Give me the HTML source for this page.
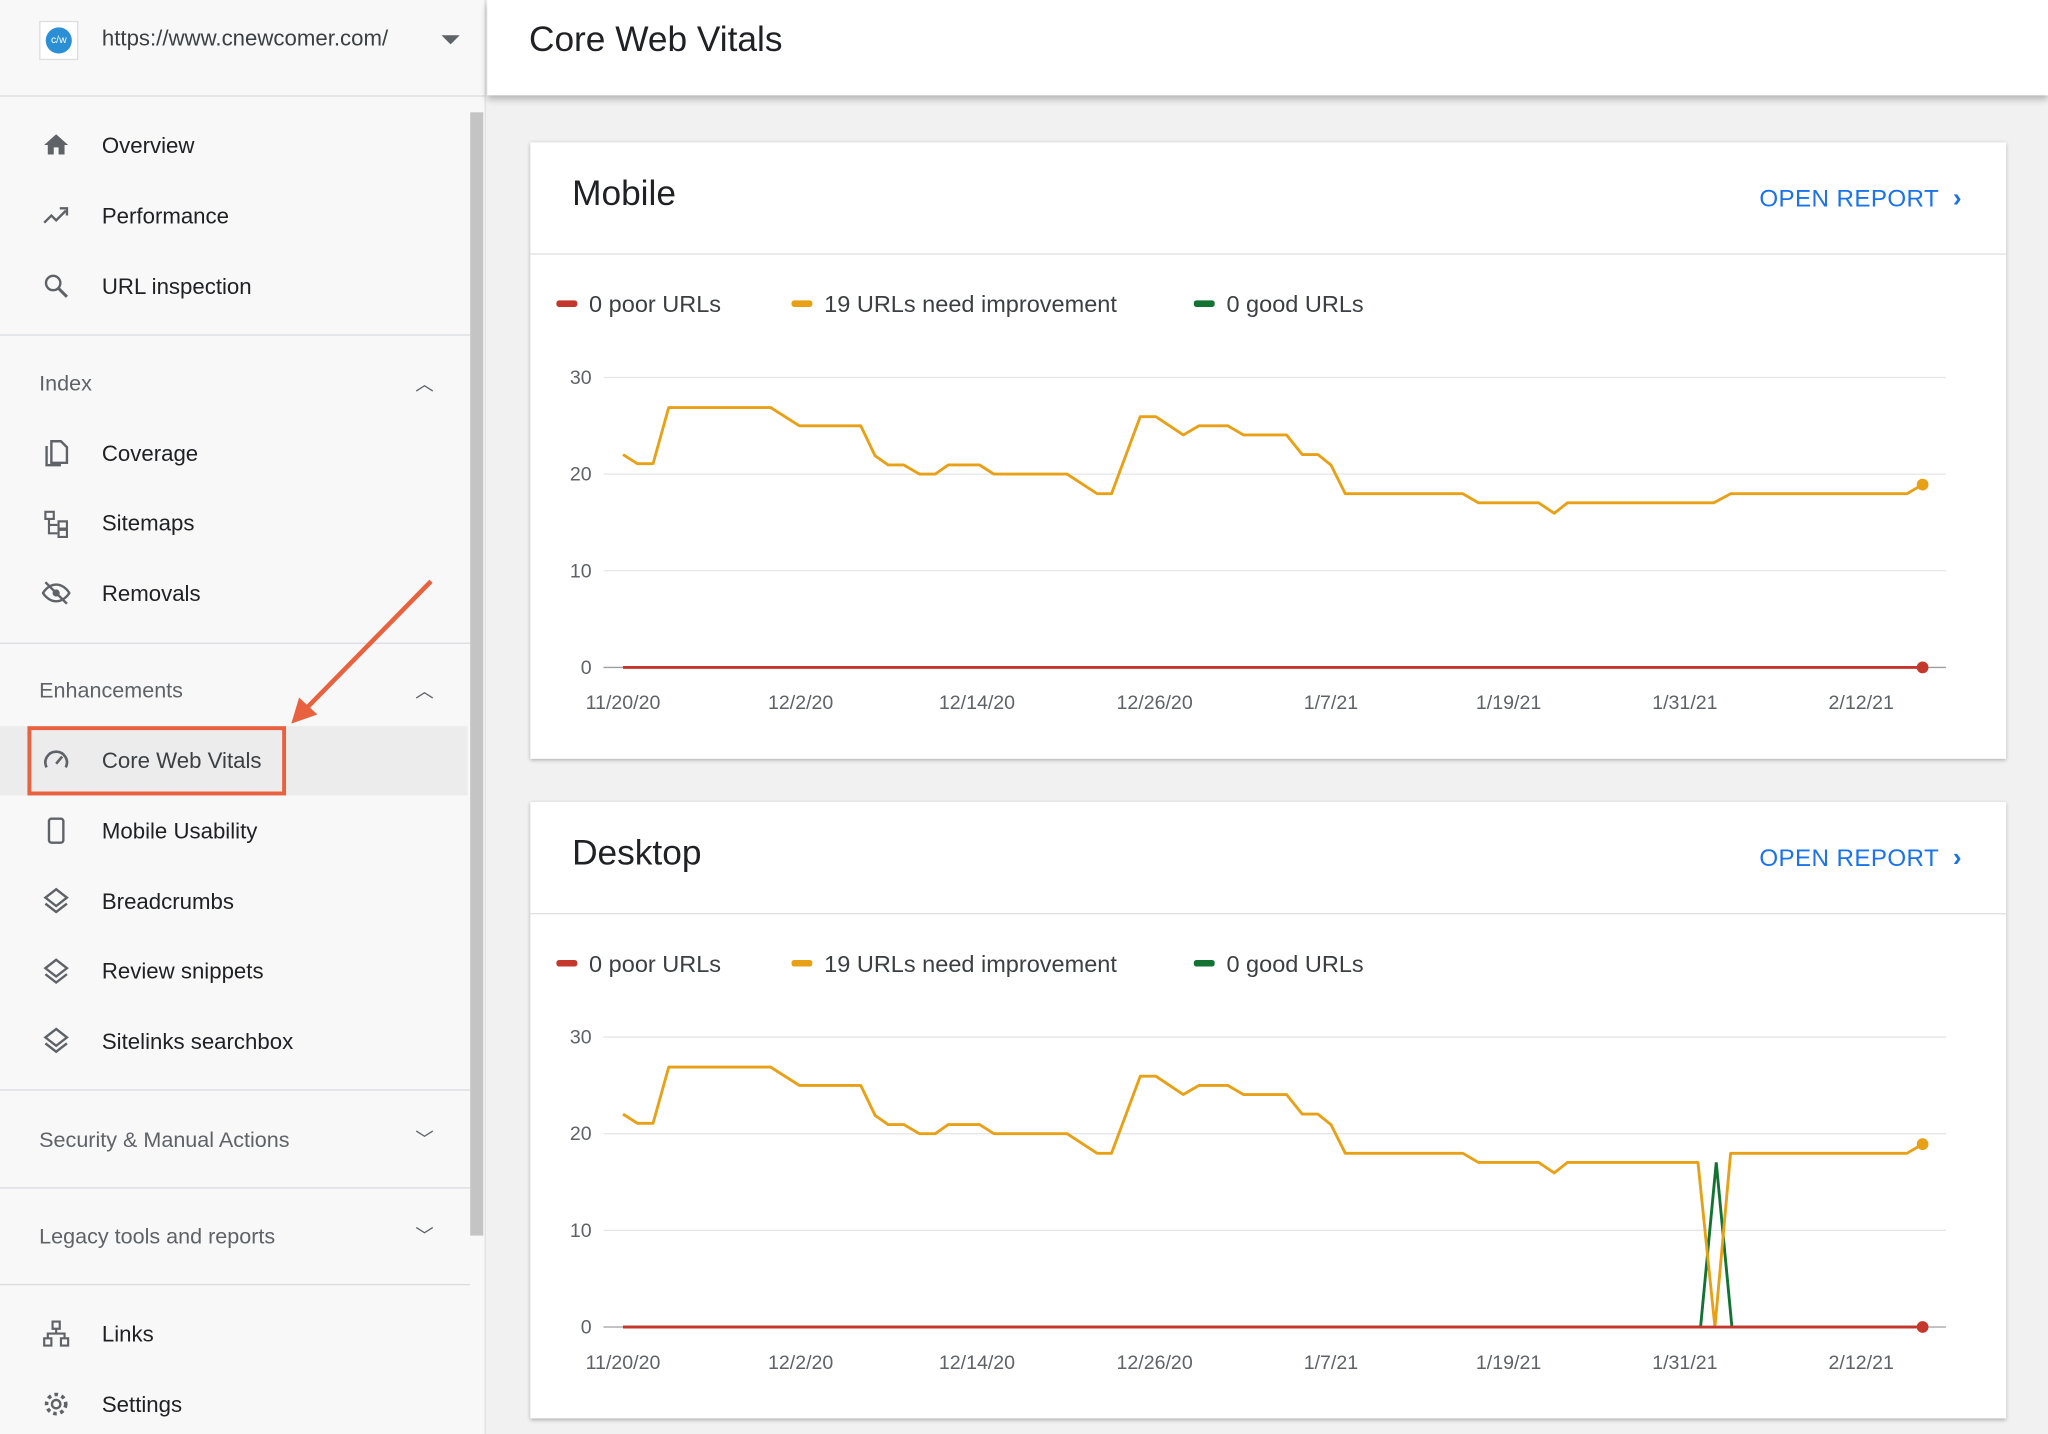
<!DOCTYPE html>
<html><head><meta charset="utf-8"><style>
*{margin:0;padding:0;box-sizing:border-box}
html,body{width:2048px;height:1434px;overflow:hidden;background:#f1f1f1;font-family:"Liberation Sans",Arial,sans-serif}
#w{position:absolute;left:0;top:0;width:1568px;height:1098px;transform:scale(1.306122);transform-origin:0 0;background:#f1f1f1}
#side{position:absolute;left:0;top:0;width:372px;height:1098px;background:#f8f8f8;border-right:1px solid #e0e0e0}
.it{position:absolute;left:78px;font-size:17px;color:#202124}
.ic{position:absolute;left:32px;width:22px;height:22px}
.sec{position:absolute;left:30px;font-size:16.5px;color:#5f6368}
.chev{position:absolute;left:318px;font-size:14px;color:#5f6368}
.hr{position:absolute;left:0;width:360px;height:1px;background:#dadce0}
#top{position:absolute;left:373px;top:0;width:1195px;height:73px;background:#fff;box-shadow:0 3px 5px rgba(0,0,0,.25)}
.card{position:absolute;left:406px;width:1130px;height:472px;background:#fff;box-shadow:0 1px 3px rgba(0,0,0,.3)}
.ct{position:absolute;left:32px;top:24px;font-size:27px;color:#202124}
.or{position:absolute;left:941px;top:32px;font-size:18.5px;color:#1a73e8;letter-spacing:.3px}
.sep{position:absolute;left:0;top:85px;width:1130px;height:1px;background:#e0e0e0}
.lg{position:absolute;top:114px;font-size:18px;color:#3c4043}
.lg i{display:inline-block;width:16px;height:5px;border-radius:2px;margin-right:9px;vertical-align:middle;position:relative;top:-2px}
</style></head><body><div id="w">
<div id="side">
 <div style="position:absolute;left:30px;top:16px;width:30px;height:30px;border:1px solid #ddd;background:#fff"><div style="margin:4px;width:20px;height:20px;border-radius:50%;background:#2b8fd6;color:#fff;font-size:8px;text-align:center;line-height:20px">c/w</div></div>
 <div class="it" style="top:20px;font-size:17px;color:#3c4043">https://www.cnewcomer.com/</div>
 <div style="position:absolute;left:338px;top:27px;border-left:7px solid transparent;border-right:7px solid transparent;border-top:7px solid #5f6368"></div>
 <div class="hr" style="top:73px;width:372px"></div>
 <div style="position:absolute;left:360px;top:86px;width:10px;height:860px;background:#c4c4c4"></div>
 <svg class="ic" style="top:100px" viewBox="0 0 24 24"><path d="M10 20v-6h4v6h5v-8h3L12 3 2 12h3v8z" fill="#5f6368"/></svg>
 <div class="it" style="top:102px">Overview</div>
 <svg class="ic" style="top:154px" viewBox="0 0 24 24"><path d="M2 18l6-6 4 4 8-8M15 6h6v6" stroke="#5f6368" stroke-width="2" fill="none"/></svg>
 <div class="it" style="top:156px">Performance</div>
 <svg class="ic" style="top:208px" viewBox="0 0 24 24"><circle cx="9.5" cy="9.5" r="6" stroke="#5f6368" stroke-width="2" fill="none"/><path d="M14 14l7 7" stroke="#5f6368" stroke-width="2.5"/></svg>
 <div class="it" style="top:210px">URL inspection</div>
 <div class="hr" style="top:256px"></div>
 <div class="sec" style="top:285px">Index</div><div class="chev" style="top:284px">︿</div>
 <svg class="ic" style="top:336px" viewBox="0 0 24 24"><path d="M8 2h8l5 5v13H8z M4 6v16h12" stroke="#5f6368" stroke-width="2" fill="none"/></svg>
 <div class="it" style="top:338px">Coverage</div>
 <svg class="ic" style="top:390px" viewBox="0 0 24 24"><path d="M3 2h7v6H3zM6 8v12h7M6 13h7M14 10h7v6h-7zM14 17h7v6h-7z" stroke="#5f6368" stroke-width="1.8" fill="none"/></svg>
 <div class="it" style="top:391px">Sitemaps</div>
 <svg class="ic" style="top:443px" viewBox="0 0 24 24"><path d="M1 12s4-7 11-7 11 7 11 7-4 7-11 7S1 12 1 12z" stroke="#5f6368" stroke-width="2" fill="none"/><circle cx="12" cy="12" r="3" fill="#5f6368"/><path d="M3 3l18 18" stroke="#5f6368" stroke-width="2"/></svg>
 <div class="it" style="top:445px">Removals</div>
 <div class="hr" style="top:492px"></div>
 <div class="sec" style="top:520px">Enhancements</div><div class="chev" style="top:519px">︿</div>
 <div style="position:absolute;left:0;top:556px;width:358px;height:53px;background:#ececec"></div>
 <div style="position:absolute;left:21px;top:556px;width:198px;height:53px;border:3px solid #e8623f"></div>
 <svg class="ic" style="top:571px" viewBox="0 0 24 24"><path d="M4 18a9 9 0 1 1 16 0" stroke="#5f6368" stroke-width="2.2" fill="none"/><path d="M12 15l5-6" stroke="#5f6368" stroke-width="2.2"/></svg>
 <div class="it" style="top:573px;color:#3c4043">Core Web Vitals</div>
 <svg style="position:absolute;left:215px;top:440px;width:120px;height:120px" viewBox="0 0 120 120"><path d="M115 5L14 108" stroke="#e8623f" stroke-width="3.5"/><path d="M8 114l6-20 14 13z" fill="#e8623f"/></svg>
 <svg class="ic" style="top:625px" viewBox="0 0 24 24"><rect x="6" y="2" width="12" height="20" rx="2" stroke="#5f6368" stroke-width="2" fill="none"/></svg>
 <div class="it" style="top:627px">Mobile Usability</div>
 <svg class="ic" style="top:679px" viewBox="0 0 24 24"><path d="M12 2l9 7-9 7-9-7zM3 14l9 7 9-7" stroke="#5f6368" stroke-width="2" fill="none"/></svg>
 <div class="it" style="top:681px">Breadcrumbs</div>
 <svg class="ic" style="top:733px" viewBox="0 0 24 24"><path d="M12 2l9 7-9 7-9-7zM3 14l9 7 9-7" stroke="#5f6368" stroke-width="2" fill="none"/></svg>
 <div class="it" style="top:734px">Review snippets</div>
 <svg class="ic" style="top:786px" viewBox="0 0 24 24"><path d="M12 2l9 7-9 7-9-7zM3 14l9 7 9-7" stroke="#5f6368" stroke-width="2" fill="none"/></svg>
 <div class="it" style="top:788px">Sitelinks searchbox</div>
 <div class="hr" style="top:834px"></div>
 <div class="sec" style="top:864px">Security &amp; Manual Actions</div><div class="chev" style="top:862px">﹀</div>
 <div class="hr" style="top:909px"></div>
 <div class="sec" style="top:938px">Legacy tools and reports</div><div class="chev" style="top:936px">﹀</div>
 <div class="hr" style="top:983px"></div>
 <svg class="ic" style="top:1010px" viewBox="0 0 24 24"><path d="M9 2h6v6H9zM2 16h6v6H2zM16 16h6v6h-6zM12 8v4M5 16v-4h14v4" stroke="#5f6368" stroke-width="1.8" fill="none"/></svg>
 <div class="it" style="top:1012px">Links</div>
 <svg class="ic" style="top:1064px" viewBox="0 0 24 24"><circle cx="12" cy="12" r="3.5" stroke="#5f6368" stroke-width="2" fill="none"/><circle cx="12" cy="12" r="8" stroke="#5f6368" stroke-width="3" stroke-dasharray="3 3" fill="none"/></svg>
 <div class="it" style="top:1066px">Settings</div>
</div>
<div id="top"><div style="position:absolute;left:32px;top:15px;font-size:27px;color:#202124">Core Web Vitals</div></div>

<div class="card" style="top:109px">
 <div class="ct">Mobile</div><div class="or">OPEN REPORT &nbsp;<b style="font-size:20px">›</b></div><div class="sep"></div>
 <div class="lg" style="left:20px"><i style="background:#c5372c"></i>0 poor URLs</div>
 <div class="lg" style="left:200px"><i style="background:#e8a117"></i>19 URLs need improvement</div>
 <div class="lg" style="left:508px"><i style="background:#137333"></i>0 good URLs</div>
</div>
<div class="card" style="top:614px">
 <div class="ct">Desktop</div><div class="or">OPEN REPORT &nbsp;<b style="font-size:20px">›</b></div><div class="sep"></div>
 <div class="lg" style="left:20px"><i style="background:#c5372c"></i>0 poor URLs</div>
 <div class="lg" style="left:200px"><i style="background:#e8a117"></i>19 URLs need improvement</div>
 <div class="lg" style="left:508px"><i style="background:#137333"></i>0 good URLs</div>
</div>

<svg style="position:absolute;left:0;top:0" width="1568" height="1098" font-family="Liberation Sans, Arial, sans-serif">
<defs>
<g id="ax" font-size="15" fill="#5f6368">
 <g stroke="#e6e6e6" stroke-width="1"><line x1="462" y1="289" x2="1490" y2="289"/><line x1="462" y1="363" x2="1490" y2="363"/><line x1="462" y1="437" x2="1490" y2="437"/></g>
 <line x1="462" y1="511" x2="1490" y2="511" stroke="#9e9e9e"/>
 <text x="453" y="294" text-anchor="end">30</text><text x="453" y="368" text-anchor="end">20</text><text x="453" y="442" text-anchor="end">10</text><text x="453" y="516" text-anchor="end">0</text>
 <g text-anchor="middle"><text x="477" y="543">11/20/20</text><text x="613" y="543">12/2/20</text><text x="748" y="543">12/14/20</text><text x="884" y="543">12/26/20</text><text x="1019" y="543">1/7/21</text><text x="1155" y="543">1/19/21</text><text x="1290" y="543">1/31/21</text><text x="1425" y="543">2/12/21</text></g>
</g>
</defs>
<use href="#ax"/>
<polyline fill="none" stroke="#e8a117" stroke-width="2.2" stroke-linejoin="round" points="477,348 488,355 500,355 512,312 590,312 612,326 659,326 670,349 680,356 692,356 704,363 716,363 726,356 750,356 761,363 817,363 840,378 851,378 873,319 885,319 906,333 918,326 940,326 952,333 985,333 997,348 1009,348 1019,356 1030,378 1120,378 1132,385 1178,385 1190,393 1200,385 1312,385 1325,378 1460,378 1472,371"/>
<line x1="477" y1="511" x2="1472" y2="511" stroke="#c5372c" stroke-width="2.2"/>
<circle cx="1472" cy="371" r="4.5" fill="#e8a117"/><circle cx="1472" cy="511" r="4.5" fill="#c5372c"/>
<g transform="translate(0,505)">
<use href="#ax"/>
<polyline fill="none" stroke="#137333" stroke-width="2.2" points="477,511 1302,511 1314,385 1326,511 1472,511"/>
<polyline fill="none" stroke="#e8a117" stroke-width="2.2" stroke-linejoin="round" points="477,348 488,355 500,355 512,312 590,312 612,326 659,326 670,349 680,356 692,356 704,363 716,363 726,356 750,356 761,363 817,363 840,378 851,378 873,319 885,319 906,333 918,326 940,326 952,333 985,333 997,348 1009,348 1019,356 1030,378 1120,378 1132,385 1178,385 1190,393 1200,385 1300,385 1313,511 1325,378 1460,378 1472,371"/>
<line x1="477" y1="511" x2="1472" y2="511" stroke="#c5372c" stroke-width="2.2"/>
<circle cx="1472" cy="371" r="4.5" fill="#e8a117"/><circle cx="1472" cy="511" r="4.5" fill="#c5372c"/>
</g>
</svg>
</div></body></html>
